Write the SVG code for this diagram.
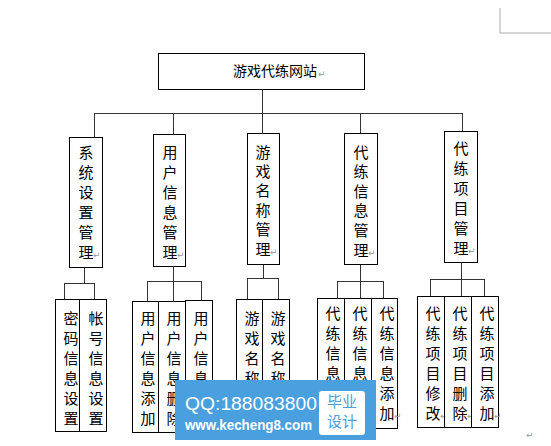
<svg xmlns="http://www.w3.org/2000/svg" width="551" height="446" viewBox="0 0 551 446">
<style>
.box{fill:#fff;stroke:#000;stroke-width:1}
.c{fill:none;stroke:#333;stroke-width:1}
.t{font-family:"Noto Sans CJK SC","Noto Sans",sans-serif;font-size:15px;fill:#000;text-anchor:middle}
.r{font-family:"DejaVu Sans",sans-serif;font-size:9px;fill:#999}
.w{font-family:"Noto Sans CJK SC",sans-serif;font-size:15px;fill:#4aa0de;text-anchor:middle}
</style>
<rect width="551" height="446" fill="#fff"/>
<polyline points="500,8 500,33 551,33" fill="none" stroke="#aaa" stroke-width="1"/>
<g id="connectors">
<path class="c" d="M262.5,89 V133 M94.5,113.5 H462.5 M94.5,113 V137 M173.5,113 V134 M360.5,113 V133 M462.5,113 V131"/>
<path class="c" d="M84.5,267 V283 M64.5,283.5 H94.5 M64.5,283 V299 M94.5,283 V299"/>
<path class="c" d="M173.5,266 V281 M147.5,281.5 H201.5 M147.5,281 V301 M173.5,281 V301 M201.5,281 V300"/>
<path class="c" d="M263.5,264 V278 M247.5,278.5 H278.5 M247.5,278 V299 M278.5,278 V299"/>
<path class="c" d="M360.5,264 V281 M337.5,281.5 H383.5 M337.5,281 V298 M360.5,281 V298 M383.5,281 V298"/>
<path class="c" d="M461.5,262 V296 M430.5,279.5 H484.5 M430.5,279 V296 M484.5,279 V296"/>
</g>
<g id="root">
<rect class="box" x="158.5" y="53.5" width="206" height="36"/>
<text x="233" y="76" style="font-family:'Noto Sans CJK SC',sans-serif;font-size:14px">游戏代练网站</text>
<text class="r" x="318" y="77">↵</text>
</g>
<g id="n1">
<rect class="box" x="69.5" y="137.5" width="33" height="130"/>
<text class="t"><tspan x="86" y="157.5">系</tspan><tspan x="86" y="177.5">统</tspan><tspan x="86" y="197.5">设</tspan><tspan x="86" y="217.5">置</tspan><tspan x="86" y="237.5">管</tspan><tspan x="86" y="257.5">理</tspan></text>
<text class="r" x="93" y="258">↵</text>
</g>
<g id="n2">
<rect class="box" x="153.5" y="134.5" width="32" height="132"/>
<text class="t"><tspan x="170" y="157.5">用</tspan><tspan x="170" y="177.5">户</tspan><tspan x="170" y="197.5">信</tspan><tspan x="170" y="217.5">息</tspan><tspan x="170" y="237.5">管</tspan><tspan x="170" y="257.5">理</tspan></text>
<text class="r" x="177" y="258">↵</text>
</g>
<g id="n3">
<rect class="box" x="247.5" y="133.5" width="32" height="131"/>
<text class="t"><tspan x="263" y="157.5">游</tspan><tspan x="263" y="176.9">戏</tspan><tspan x="263" y="196.3">名</tspan><tspan x="263" y="215.7">称</tspan><tspan x="263" y="235.1">管</tspan><tspan x="263" y="254.5">理</tspan></text>
<text class="r" x="270" y="255">↵</text>
</g>
<g id="n4">
<rect class="box" x="344.5" y="133.5" width="33" height="131"/>
<text class="t"><tspan x="361" y="157.5">代</tspan><tspan x="361" y="177.1">练</tspan><tspan x="361" y="196.7">信</tspan><tspan x="361" y="216.3">息</tspan><tspan x="361" y="235.9">管</tspan><tspan x="361" y="255.5">理</tspan></text>
<text class="r" x="368" y="256">↵</text>
</g>
<g id="n5">
<rect class="box" x="444.5" y="131.5" width="33" height="131"/>
<text class="t"><tspan x="461" y="153.5">代</tspan><tspan x="461" y="173.5">练</tspan><tspan x="461" y="193.5">项</tspan><tspan x="461" y="213.5">目</tspan><tspan x="461" y="233.5">管</tspan><tspan x="461" y="253.5">理</tspan></text>
<text class="r" x="468" y="254">↵</text>
</g>
<g id="n1a">
<rect class="box" x="55.5" y="299.5" width="24" height="132"/>
<text class="t"><tspan x="71" y="323.5">密</tspan><tspan x="71" y="343.5">码</tspan><tspan x="71" y="363.5">信</tspan><tspan x="71" y="383.5">息</tspan><tspan x="71" y="403.5">设</tspan><tspan x="71" y="423.5">置</tspan></text>
</g>
<g id="n1b">
<rect class="box" x="79.5" y="299.5" width="27" height="132"/>
<text class="t"><tspan x="96" y="323.5">帐</tspan><tspan x="96" y="343.5">号</tspan><tspan x="96" y="363.5">信</tspan><tspan x="96" y="383.5">息</tspan><tspan x="96" y="403.5">设</tspan><tspan x="96" y="423.5">置</tspan></text>
</g>
<g id="n2a">
<rect class="box" x="132.5" y="301.5" width="26" height="131"/>
<text class="t"><tspan x="148" y="323.5">用</tspan><tspan x="148" y="343.5">户</tspan><tspan x="148" y="363.5">信</tspan><tspan x="148" y="383.5">息</tspan><tspan x="148" y="403.5">添</tspan><tspan x="148" y="423.5">加</tspan></text>
</g>
<g id="n2b">
<rect class="box" x="158.5" y="301.5" width="27" height="131"/>
<text class="t"><tspan x="174" y="323.5">用</tspan><tspan x="174" y="343.5">户</tspan><tspan x="174" y="363.5">信</tspan><tspan x="174" y="383.5">息</tspan><tspan x="174" y="403.5">删</tspan><tspan x="174" y="423.5">除</tspan></text>
</g>
<g id="n2c">
<rect class="box" x="185.5" y="300.5" width="27" height="132"/>
<text class="t"><tspan x="201" y="323.5">用</tspan><tspan x="201" y="343.5">户</tspan><tspan x="201" y="363.5">信</tspan><tspan x="201" y="383.5">息</tspan></text>
</g>
<g id="n3a">
<rect class="box" x="236.5" y="299.5" width="26" height="132"/>
<text class="t"><tspan x="252" y="323.5">游</tspan><tspan x="252" y="343.5">戏</tspan><tspan x="252" y="363.5">名</tspan><tspan x="252" y="383.5">称</tspan></text>
</g>
<g id="n3b">
<rect class="box" x="262.5" y="299.5" width="27" height="132"/>
<text class="t"><tspan x="278" y="323.5">游</tspan><tspan x="278" y="343.5">戏</tspan><tspan x="278" y="363.5">名</tspan><tspan x="278" y="383.5">称</tspan></text>
</g>
<g id="n4a">
<rect class="box" x="317.5" y="298.5" width="27" height="130"/>
<text class="t"><tspan x="333" y="318.5">代</tspan><tspan x="333" y="338.5">练</tspan><tspan x="333" y="358.5">信</tspan><tspan x="333" y="378.5">息</tspan></text>
</g>
<g id="n4b">
<rect class="box" x="344.5" y="298.5" width="27" height="130"/>
<text class="t"><tspan x="360" y="318.5">代</tspan><tspan x="360" y="338.5">练</tspan><tspan x="360" y="358.5">信</tspan><tspan x="360" y="378.5">息</tspan></text>
</g>
<g id="n4c">
<rect class="box" x="371.5" y="298.5" width="26" height="130"/>
<text class="t"><tspan x="387" y="318.5">代</tspan><tspan x="387" y="338.5">练</tspan><tspan x="387" y="358.5">信</tspan><tspan x="387" y="378.5">息</tspan><tspan x="387" y="398.5">添</tspan><tspan x="387" y="418.5">加</tspan></text>
<text class="r" x="394" y="419">↵</text>
</g>
<g id="n5a">
<rect class="box" x="417.5" y="296.5" width="27" height="131"/>
<text class="t"><tspan x="433" y="318.5">代</tspan><tspan x="433" y="338.5">练</tspan><tspan x="433" y="358.5">项</tspan><tspan x="433" y="378.5">目</tspan><tspan x="433" y="398.5">修</tspan><tspan x="433" y="418.5">改</tspan></text>
<text class="r" x="440" y="419">↵</text>
</g>
<g id="n5b">
<rect class="box" x="444.5" y="296.5" width="27" height="131"/>
<text class="t"><tspan x="460" y="318.5">代</tspan><tspan x="460" y="338.5">练</tspan><tspan x="460" y="358.5">项</tspan><tspan x="460" y="378.5">目</tspan><tspan x="460" y="398.5">删</tspan><tspan x="460" y="418.5">除</tspan></text>
<text class="r" x="467" y="419">↵</text>
</g>
<g id="n5c">
<rect class="box" x="471.5" y="296.5" width="27" height="131"/>
<text class="t"><tspan x="487" y="318.5">代</tspan><tspan x="487" y="338.5">练</tspan><tspan x="487" y="358.5">项</tspan><tspan x="487" y="378.5">目</tspan><tspan x="487" y="398.5">添</tspan><tspan x="487" y="418.5">加</tspan></text>
<text class="r" x="494" y="419">↵</text>
</g>
<text class="r" x="526" y="438">↵</text>
<g id="watermark">
<rect x="175" y="380" width="201" height="60" fill="#4aa0de"/>
<rect x="319" y="391" width="46" height="44" rx="3" fill="#fff"/>
<text class="w" x="342" y="407">毕业</text>
<text class="w" x="342" y="427">设计</text>
<text x="185" y="410" textLength="132" lengthAdjust="spacingAndGlyphs" style="font-family:'Liberation Sans',Arial,sans-serif;font-size:19px;fill:#fff">QQ:188083800</text>
<text x="185" y="430" textLength="127" lengthAdjust="spacingAndGlyphs" style="font-family:'Liberation Sans',Arial,sans-serif;font-size:14px;font-weight:bold;fill:#fff">www.kecheng8.com</text>
</g>
</svg>
